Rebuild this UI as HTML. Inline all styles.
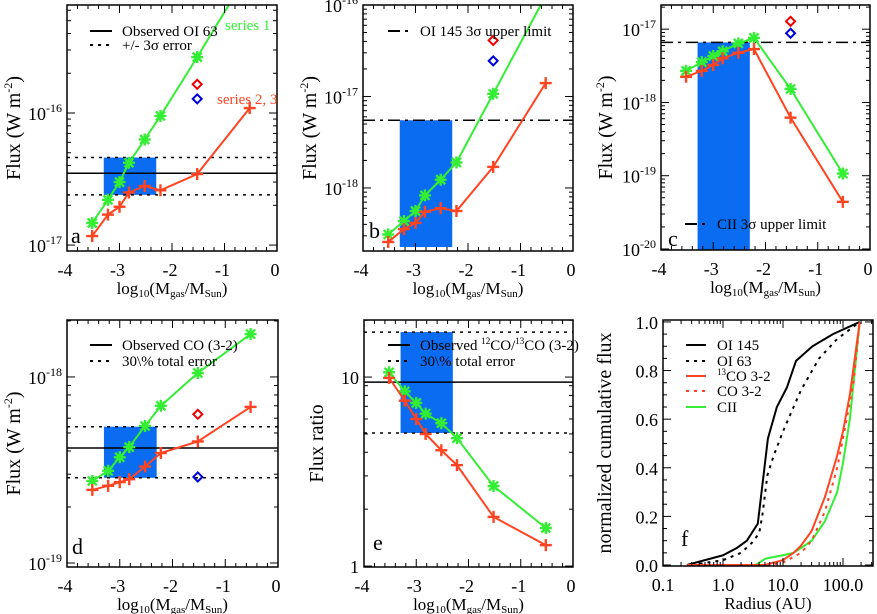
<!DOCTYPE html>
<html><head><meta charset="utf-8"><style>
html,body{margin:0;padding:0;background:#fff}
svg{display:block;font-family:"Liberation Serif",serif}
</style></head><body>
<svg id="fig" width="877" height="614" viewBox="0 0 877 614" xmlns="http://www.w3.org/2000/svg"></svg>
<script>
// ---------- data ----------
const massX = [-3.52,-3.22,-3.0,-2.82,-2.52,-2.22,-1.52,-0.52];
const xTicks = [-4,-3,-2,-1,0];
const boxX = [-3.3,-2.3];
const diamondX = -1.52;
// panel a
const aGreen = [1.47e-17,2.2e-17,3.0e-17,4.2e-17,6.3e-17,9.5e-17,2.65e-16,1.2e-15];
const aRed = [1.17e-17,1.7e-17,1.95e-17,2.5e-17,2.8e-17,2.6e-17,3.45e-17,1.09e-16];
const aDiam = [1.65e-16,1.28e-16];
const aObs = [3.5e-17,2.4e-17,4.6e-17];
const aTicks = [-17,-16];
// panel b
const bGreen = [3.1e-19,4.35e-19,5.6e-19,8.3e-19,1.23e-18,1.9e-18,1.07e-17,1.26e-16];
const bRed = [2.57e-19,3.55e-19,4.15e-19,5.5e-19,6.0e-19,5.6e-19,1.7e-18,1.4e-17];
const bDiam = [4.1e-17,2.45e-17];
const bLimit = [5.5e-18,2.26e-19];
const bTicks = [-18,-17,-16];
// panel c
const cGreen = [2.7e-18,3.55e-18,4.3e-18,5.0e-18,6.4e-18,7.6e-18,1.53e-18,1.07e-19];
const cRed = [2.24e-18,2.7e-18,3.25e-18,4.0e-18,4.75e-18,5.35e-18,6.2e-19,4.4e-20];
const cDiam = [1.28e-17,8.8e-18];
const cLimit = [6.6e-18,9.8e-21];
const cTicks = [-20,-19,-18,-17];
// panel d
const dGreen = [2.76e-19,3.13e-19,3.7e-19,4.2e-19,5.45e-19,7.0e-19,1.05e-18,1.7e-18];
const dRed = [2.47e-19,2.6e-19,2.72e-19,2.82e-19,3.3e-19,3.9e-19,4.5e-19,6.9e-19];
const dDiam = [6.3e-19,2.9e-19];
const dObs = [4.15e-19,2.87e-19,5.4e-19];
const dTicks = [-19,-18];
// panel e
const eGreen = [10.6,8.4,7.3,6.4,5.7,4.75,2.65,1.59];
const eRed = [9.9,7.5,6.0,5.0,4.1,3.42,1.82,1.29];
const eObs = [9.4,5.06,17.3];
const eTicks = ["1","10"];
const eTickVals = [1,10];
// panel f
const fTickVals = [0.1,1,10,100];
const fTickLabels = ["0.1","1.0","10.0","100.0"];
const fYTicks = [0,0.2,0.4,0.6,0.8,1.0];
const fOI145R = [0.25,1,1.7,2.5,3.8,5.6,7.9,11.6,16.5,31,68,190];
const fOI145V = [0,0.04,0.07,0.1,0.17,0.52,0.65,0.73,0.84,0.90,0.95,1.0];
const fOI63R = [0.3,1,2,3,4,4.5,5.5,7,10,15,20,40,80,190];
const fOI63V = [0,0.02,0.05,0.09,0.13,0.2,0.37,0.45,0.55,0.65,0.72,0.85,0.93,1.0];
const f13COR = [0.25,5,10,15,20,30,50,80,100,130,190];
const f13COV = [0,0,0.02,0.05,0.08,0.14,0.28,0.45,0.55,0.7,1.0];
const fCOR = [0.25,6,10,20,30,50,80,100,150,190];
const fCOV = [0,0,0.01,0.05,0.1,0.22,0.4,0.52,0.75,1.0];
const fCIIR = [0.25,3.5,5,6,10,15,20,30,50,80,100,130,190];
const fCIIV = [0,0,0.025,0.03,0.04,0.05,0.07,0.1,0.18,0.3,0.42,0.6,1.0];

// ---------- helpers ----------
const NS="http://www.w3.org/2000/svg";
const svg=document.getElementById('fig');
const GREEN="#33ee33", RED="#ff4422", BLUE="#0a6cf0";
const TICKFS=18, TITLEFS=20;
function mk(tag,attrs,parent){const e=document.createElementNS(NS,tag);for(const k in attrs)e.setAttribute(k,attrs[k]);(parent||svg).appendChild(e);return e;}
function makePanel(c){
  c.x=v=>{const t=c.xlog?Math.log10(v):v;return c.L+(t-c.xmin)/(c.xmax-c.xmin)*(c.R-c.L);};
  c.y=v=>{const t=c.ylog?Math.log10(v):v;return c.B-(t-c.ymin)/(c.ymax-c.ymin)*(c.B-c.T);};
  const g=mk('g',{});
  
  
  const cp=mk('clipPath',{id:'clip-'+c.id},g);
  mk('rect',{x:c.L,y:c.T,width:c.R-c.L,height:c.B-c.T},cp);
  c.g=g;
  c.plot=mk('g',{'clip-path':'url(#clip-'+c.id+')'},g);
  return c;
}
function frame(c){
  const f=mk('rect',{x:c.L,y:c.T,width:c.R-c.L,height:c.B-c.T,fill:'none',stroke:'#000','stroke-width':1.5},c.g);
  
  
}
function tick(c,x1,y1,x2,y2){mk('line',{x1,y1,x2,y2,stroke:'#000','stroke-width':1},c.g);}
function xTicksLin(c){
  for(let v=c.xmin;v<=c.xmax+1e-9;v+=0.2){
    const px=c.x(v);const maj=Math.abs(v-Math.round(v))<1e-6;const l=maj?8:4;
    tick(c,px,c.B,px,c.B-l);tick(c,px,c.T,px,c.T+l);
  }
  xTicks.forEach(v=>{const t=mk('text',{x:c.x(v)-2,y:c.B+25,'font-size':TICKFS,'text-anchor':'middle'},c.g);t.textContent=String(v);
    
    });
  const tt=mk('text',{x:(c.L+c.R)/2,y:c.B+43,'font-size':17,'text-anchor':'middle'},c.g);
  
  
  tt.innerHTML='log<tspan font-size="11" dy="3">10</tspan><tspan dy="-3">(M</tspan><tspan font-size="11" dy="3">gas</tspan><tspan dy="-3">/M</tspan><tspan font-size="11" dy="3">Sun</tspan><tspan dy="-3">)</tspan>';
}
function yTicksLog(c,decs,labelFn){
  for(let d=Math.floor(c.ymin);d<=Math.ceil(c.ymax);d++){
    for(let m=1;m<10;m++){
      const lv=d+Math.log10(m);if(lv<c.ymin-1e-6||lv>c.ymax+1e-6)continue;
      const py=c.y(Math.pow(10,lv));const l=m===1?8:4;
      tick(c,c.L,py,c.L+l,py);tick(c,c.R,py,c.R-l,py);
    }
  }
  decs.forEach((d,i)=>{const py=c.y(Math.pow(10,d));
    const t=mk('text',{x:c.L-5,y:py+7,'font-size':TICKFS,'text-anchor':'end'},c.g);
    
    
    if(labelFn) t.textContent=labelFn(i); else t.innerHTML='10<tspan font-size="12" dy="-8">'+d+'</tspan>';});
}
function yTitle(c,txt,x){
  const t=mk('text',{x:x,y:(c.T+c.B)/2,'font-size':TITLEFS,'text-anchor':'middle',transform:'rotate(-90 '+x+' '+(c.T+c.B)/2+')'},c.g);
  
  
  t.innerHTML=txt;
}
function box(c,lo,hi){
  const r=mk('rect',{x:c.x(boxX[0]),y:c.y(hi),width:c.x(boxX[1])-c.x(boxX[0]),height:c.y(lo)-c.y(hi),fill:BLUE},c.plot);
  
  
}
function hline(c,v,dash,name){
  const l=mk('line',{x1:c.L,x2:c.R,y1:c.y(v),y2:c.y(v),stroke:'#000','stroke-width':1.5,'stroke-dasharray':dash||'none'},c.plot);
  
  
}
function series(c,xs,ys,color,marker,name){
  const pts=xs.map((v,i)=>c.x(v)+','+c.y(ys[i])).join(' ');
  const pl=mk('polyline',{points:pts,fill:'none',stroke:color,'stroke-width':2},c.plot);
  
  
  xs.forEach((v,i)=>{
    const px=c.x(v),py=c.y(ys[i]);const g=mk('g',{stroke:color,'stroke-width':2.4},c.plot);
    
    
    if(marker==='star'){
      mk('line',{x1:px-6,y1:py,x2:px+6,y2:py},g);
      mk('line',{x1:px-4.5,y1:py-4.5,x2:px+4.5,y2:py+4.5},g);
      mk('line',{x1:px-4.5,y1:py+4.5,x2:px+4.5,y2:py-4.5},g);
      mk('line',{x1:px,y1:py-6,x2:px,y2:py+6},g);
    } else {
      mk('line',{x1:px-6,y1:py,x2:px+6,y2:py},g);
      mk('line',{x1:px,y1:py-6,x2:px,y2:py+6},g);
    }
  });
}
function diamonds(c,vals){
  [['#ee0000','red'],['#0000dd','blue']].forEach((cc,i)=>{
    const px=c.x(diamondX),py=c.y(vals[i]);
    const p=mk('polygon',{points:`${px},${py-4.5} ${px+4.5},${py} ${px},${py+4.5} ${px-4.5},${py}`,fill:'none',stroke:cc[0],'stroke-width':2},c.plot);
    
    
  });
}
function text(c,x,y,html,opts,name){
  const t=mk('text',Object.assign({x,y,'font-size':15},opts||{}),c.g);
  
  
  t.innerHTML=html;return t;
}
function legLine(c,x1,x2,y,dash,color,name){
  const l=mk('line',{x1,x2,y1:y,y2:y,stroke:color||'#000','stroke-width':2,'stroke-dasharray':dash||'none'},c.g);
  
  
}
const FLUX='Flux (W m<tspan font-size="12" dy="-8">-2</tspan><tspan dy="8">)</tspan>';
const DOT='3,5', DASHDOT='12,5,3,5';

// ---------- panel a ----------
let A=makePanel({id:'a',name:'panel-a',L:67,R:277,T:5,B:251,xmin:-4,xmax:0,ylog:true,ymin:-17.045,ymax:-15.182});
box(A,aObs[1],aObs[2]);
hline(A,aObs[0],null,'observed-line');hline(A,aObs[1],DOT,'error-low');hline(A,aObs[2],DOT,'error-high');
series(A,massX,aGreen,GREEN,'star','series-1');series(A,massX,aRed,RED,'plus','series-2');diamonds(A,aDiam);
frame(A);xTicksLin(A);yTicksLog(A,aTicks);yTitle(A,FLUX,20);
legLine(A,90,112,31,null,null,'legend-observed-line');text(A,122,36,'Observed OI 63',{},'legend-observed');
legLine(A,90,112,45,DOT,null,'legend-error-line');text(A,122,50,'+/- 3σ error',{},'legend-error');
text(A,225,30,'series 1',{fill:GREEN},'series-1-label');text(A,217,104,'series 2, 3',{fill:RED},'series-2-label');
text(A,71,243,'a',{'font-size':22},'panel-label-a');

// ---------- panel b ----------
let Bp=makePanel({id:'b',name:'panel-b',L:363,R:573,T:5,B:251,xmin:-4,xmax:0,ylog:true,ymin:-18.689,ymax:-16});
box(Bp,bLimit[1],bLimit[0]);hline(Bp,bLimit[0],DASHDOT,'upper-limit-line');
series(Bp,massX,bGreen,GREEN,'star','series-1');series(Bp,massX,bRed,RED,'plus','series-2');diamonds(Bp,bDiam);
frame(Bp);xTicksLin(Bp);yTicksLog(Bp,bTicks);yTitle(Bp,FLUX,316);
legLine(Bp,388,410,31,DASHDOT,null,'legend-limit-line');text(Bp,420,36,'OI 145 3σ upper limit',{},'legend-limit');
text(Bp,369,238,'b',{'font-size':22},'panel-label-b');

// ---------- panel c ----------
let C=makePanel({id:'c',name:'panel-c',L:661,R:870,T:5,B:250,xmin:-4,xmax:0,ylog:true,ymin:-20.014,ymax:-16.67});
box(C,cLimit[1],cLimit[0]);hline(C,cLimit[0],DASHDOT,'upper-limit-line');
series(C,massX,cGreen,GREEN,'star','series-1');series(C,massX,cRed,RED,'plus','series-2');diamonds(C,cDiam);
frame(C);xTicksLin(C);yTicksLog(C,cTicks);yTitle(C,FLUX,612);
legLine(C,685,706,224,DASHDOT,null,'legend-limit-line');text(C,717,229,'CII 3σ upper limit',{},'legend-limit');
text(C,668,246,'c',{'font-size':22},'panel-label-c');

// ---------- panel d ----------
let D=makePanel({id:'d',name:'panel-d',L:67,R:278,T:320,B:567,xmin:-4,xmax:0,ylog:true,ymin:-19.0215,ymax:-17.694});
box(D,dObs[1],dObs[2]);
hline(D,dObs[0],null,'observed-line');hline(D,dObs[1],DOT,'error-low');hline(D,dObs[2],DOT,'error-high');
series(D,massX,dGreen,GREEN,'star','series-1');series(D,massX,dRed,RED,'plus','series-2');diamonds(D,dDiam);
frame(D);xTicksLin(D);yTicksLog(D,dTicks);yTitle(D,FLUX,20);
legLine(D,90,112,345,null,null,'legend-observed-line');text(D,122,350,'Observed CO (3-2)',{},'legend-observed');
legLine(D,90,112,361,DOT,null,'legend-error-line');text(D,122,366,'30\\% total error',{},'legend-error');
text(D,72,554,'d',{'font-size':22},'panel-label-d');

// ---------- panel e ----------
let E=makePanel({id:'e',name:'panel-e',L:364,R:573,T:320,B:567,xmin:-4,xmax:0,ylog:true,ymin:-0.005,ymax:1.302});
box(E,eObs[1],eObs[2]);
hline(E,eObs[0],null,'observed-line');hline(E,eObs[1],DOT,'error-low');hline(E,eObs[2],DOT,'error-high');
series(E,massX,eGreen,GREEN,'star','series-1');series(E,massX,eRed,RED,'plus','series-2');
frame(E);xTicksLin(E);yTicksLog(E,eTickVals.map(v=>Math.log10(v)),i=>eTicks[i]);yTitle(E,'Flux ratio',323);
legLine(E,388,410,345,null,null,'legend-observed-line');text(E,420,350,'Observed <tspan font-size="9" dy="-6">12</tspan><tspan dy="6">CO/</tspan><tspan font-size="9" dy="-6">13</tspan><tspan dy="6">CO (3-2)</tspan>',{},'legend-observed');
legLine(E,388,410,361,DOT,null,'legend-error-line');text(E,420,366,'30\\% total error',{},'legend-error');
text(E,373,550,'e',{'font-size':22},'panel-label-e');

// ---------- panel f ----------
let F=makePanel({id:'f',name:'panel-f',L:663,R:873,T:320,B:566,xlog:true,xmin:-1,xmax:2.5,ylog:false,ymin:-1/243,ymax:1.008});
function curve(rs,vs,color,dash,name){
  const pl=mk('polyline',{points:rs.map((r,i)=>F.x(r)+','+F.y(vs[i])).join(' '),fill:'none',stroke:color,'stroke-width':2,'stroke-dasharray':dash||'none'},F.plot);
  
  
}
curve(fOI145R,fOI145V,'#000',null,'curve-oi145');
curve(fOI63R,fOI63V,'#000',DOT,'curve-oi63');
curve(fCIIR,fCIIV,GREEN,null,'curve-cii');
curve(fCOR,fCOV,RED,DOT,'curve-co32');
curve(f13COR,f13COV,RED,null,'curve-13co32');
frame(F);
for(let d=-1;d<=2;d++)for(let m=1;m<10;m++){const lv=d+Math.log10(m);if(lv>2.5)continue;const px=F.x(Math.pow(10,lv));const l=m===1?8:4;tick(F,px,F.B,px,F.B-l);tick(F,px,F.T,px,F.T+l);}
fTickVals.forEach((v,i)=>text(F,F.x(v),F.B+25,fTickLabels[i],{'font-size':TICKFS,'text-anchor':'middle'},'x-tick-label'));
for(let v=0;v<=1.0001;v+=0.05){const py=F.y(v);const maj=Math.abs(v*5-Math.round(v*5))<1e-6;const l=maj?8:4;tick(F,F.L,py,F.L+l,py);tick(F,F.R,py,F.R-l,py);}
fYTicks.forEach(v=>text(F,F.L-5,F.y(v)+7,v.toFixed(1),{'font-size':TICKFS,'text-anchor':'end'},'y-tick-label'));
text(F,(F.L+F.R)/2,F.B+43,'Radius (AU)',{'font-size':17,'text-anchor':'middle'},'x-axis-title');
yTitle(F,'normalized cumulative flux',611);
const fl=[['OI 145','#000',null],['OI 63','#000',DOT],['<tspan font-size="9" dy="-6">13</tspan><tspan dy="6">CO 3-2</tspan>',RED,null],['CO 3-2',RED,DOT],['CII',GREEN,null]];
const fly=[345,361,376,391,407];
fl.forEach((e,i)=>{legLine(F,686,706,fly[i],e[2],e[1],'legend-line-'+i);text(F,717,fly[i]+5,e[0],{},'legend-entry');});
text(F,681,546,'f',{'font-size':22},'panel-label-f');
</script>
</body></html>
